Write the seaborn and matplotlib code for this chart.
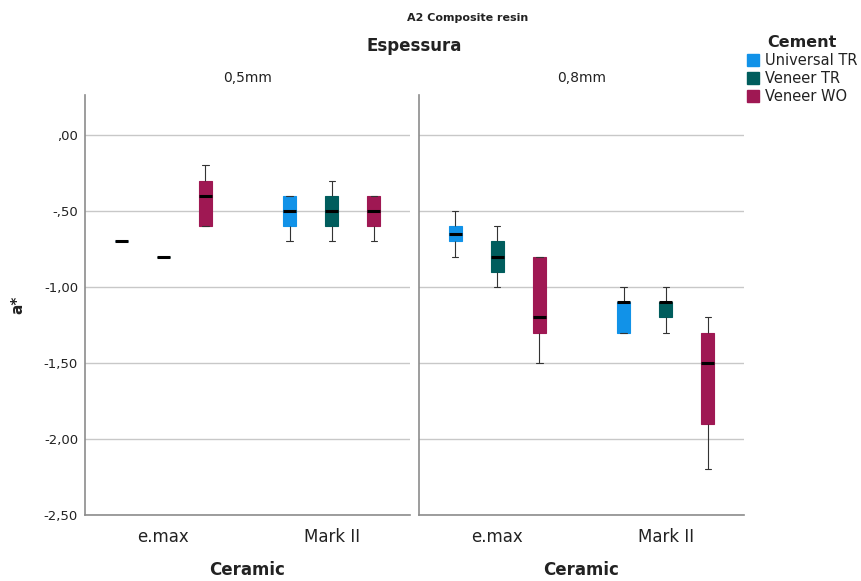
import numpy as np
import pandas as pd
import matplotlib
matplotlib.use("Agg")
import matplotlib.pyplot as plt
from matplotlib.patches import Patch
import seaborn as sns

# Factors
thickness_levels = ["0,5mm", "0,8mm"]
ceramic_levels = ["e.max", "Mark II"]
cement_levels = ["Universal TR", "Veneer TR", "Veneer WO"]

# One row per box: thickness, ceramic, cement
box_thickness = ["0,5mm"] * 6 + ["0,8mm"] * 6
box_ceramic = (["e.max"] * 3 + ["Mark II"] * 3) * 2
box_cement = cement_levels * 4

# Five-number summaries of a* for each box
whisker_low = [-0.70, -0.80, -0.60, -0.70, -0.70, -0.70,
               -0.80, -1.00, -1.50, -1.30, -1.30, -2.20]
quartile_1 = [-0.70, -0.80, -0.60, -0.60, -0.60, -0.60,
              -0.70, -0.90, -1.30, -1.30, -1.20, -1.90]
median = [-0.70, -0.80, -0.40, -0.50, -0.50, -0.50,
          -0.65, -0.80, -1.20, -1.10, -1.10, -1.50]
quartile_3 = [-0.70, -0.80, -0.30, -0.40, -0.40, -0.40,
              -0.60, -0.70, -0.80, -1.10, -1.10, -1.30]
whisker_high = [-0.70, -0.80, -0.20, -0.40, -0.30, -0.40,
                -0.50, -0.60, -0.80, -1.00, -1.00, -1.20]

# Y axis ticks
y_ticks = [0.0, -0.5, -1.0, -1.5, -2.0, -2.5]
y_tick_labels = [",00", "-,50", "-1,00", "-1,50", "-2,00", "-2,50"]

palette = {"Universal TR": "#1192e8", "Veneer TR": "#005d5d", "Veneer WO": "#9f1853"}

# Long table: the five summary points of each box
rows = []
for i in range(len(box_cement)):
    for v in (whisker_low[i], quartile_1[i], median[i], quartile_3[i], whisker_high[i]):
        rows.append({"Espessura": box_thickness[i], "Ceramic": box_ceramic[i],
                     "Cement": box_cement[i], "a*": v})
df = pd.DataFrame(rows)

sns.set_style("white")
plt.rcParams["font.family"] = ["DejaVu Sans"]

W, H = 861, 581
fig = plt.figure(figsize=(W / 100, H / 100), dpi=100)

def fx(px):
    return px / W

def fy(py):
    return 1 - py / H

ax_top, ax_bot = 95, 515
panels_x = [(85, 410), (419, 744)]
axes = []
for (x0, x1) in panels_x:
    axes.append(fig.add_axes([fx(x0), fy(ax_bot), (x1 - x0) / W, (ax_bot - ax_top) / H]))

for ax, thick in zip(axes, thickness_levels):
    sub = df[df["Espessura"] == thick]
    sns.boxplot(data=sub, x="Ceramic", y="a*", hue="Cement",
                order=ceramic_levels, hue_order=cement_levels,
                palette=palette, saturation=1, width=0.75, gap=0.7,
                whis=(0, 100), linecolor="#333333", linewidth=0.8,
                medianprops=dict(color="black", linewidth=2.2),
                fliersize=0, legend=False, ax=ax)
    for p in ax.patches:
        p.set_edgecolor(p.get_facecolor())
    ax.set_xlim(-0.465, 1.465)
    ax.set_ylim(-2.5, 0.263)
    ax.set_yticks(y_ticks)
    ax.yaxis.grid(True, color="#c8c8c8", linewidth=1.0)
    ax.xaxis.grid(False)
    ax.set_axisbelow(True)
    for s in ("top", "right"):
        ax.spines[s].set_visible(False)
    for s in ("left", "bottom"):
        ax.spines[s].set_color("#8c8c8c")
        ax.spines[s].set_linewidth(1.2)
    ax.tick_params(axis="both", length=0)
    ax.tick_params(axis="x", pad=9, labelsize=12, labelcolor="#222222")
    ax.tick_params(axis="y", pad=5, labelsize=9.5, labelcolor="#222222")
    ax.set_xlabel("")
    ax.set_ylabel("")
    ax.set_title(thick, fontsize=10, pad=9, color="#222222")

axes[0].set_yticklabels(y_tick_labels)
axes[1].set_yticklabels([])

for (x0, x1) in panels_x:
    fig.text(fx((x0 + x1) / 2), fy(570), "Ceramic", ha="center", va="center",
             fontsize=12, fontweight="bold", color="#222222")

fig.text(fx(18), fy(305), "a*", rotation=90, ha="center", va="center",
         fontsize=11, fontweight="bold", color="#222222")
fig.text(fx(414.5), fy(46), "Espessura", ha="center", va="center",
         fontsize=12, fontweight="bold", color="#222222")
fig.text(fx(468), fy(18), "A2 Composite resin", ha="center", va="center",
         fontsize=8, fontweight="bold", color="#222222")

handles = [Patch(facecolor=palette[c], edgecolor=palette[c], label=c) for c in cement_levels]
leg = fig.legend(handles=handles, title="Cement", loc="upper left",
                 bbox_to_anchor=(fx(747), fy(35)), frameon=False,
                 fontsize=10.5, title_fontproperties={"weight": "bold", "size": 11.5},
                 handlelength=0.85, handleheight=0.85, handletextpad=0.4,
                 labelspacing=0.2, borderpad=0, borderaxespad=0)
for t in leg.get_texts():
    t.set_color("#222222")
leg.get_title().set_color("#222222")

fig.savefig("out.png", dpi=100)
